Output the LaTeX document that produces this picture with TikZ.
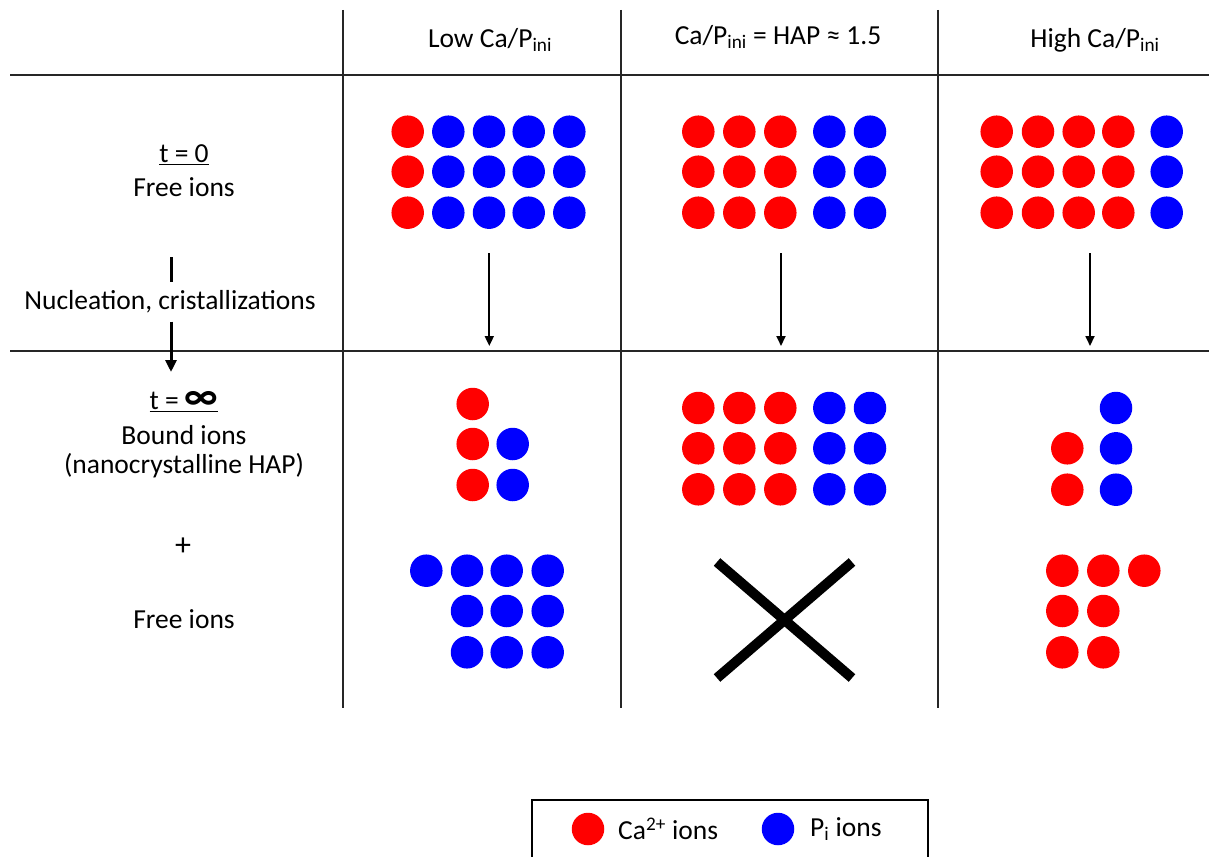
\documentclass[tikz,border=0pt]{standalone}
\usepackage{fontspec}
\setmainfont{Carlito}
\usepackage{tikz}
\usetikzlibrary{arrows.meta, positioning, calc}
\tikzstyle{txt} = [font=\fontsize{27.5}{33}\selectfont, align=center, inner sep=2pt]
\tikzstyle{caion} = [circle, fill=red, minimum size=32.5pt, inner sep=0pt]
\tikzstyle{pion} = [circle, fill=blue, minimum size=32.5pt, inner sep=0pt]
\tikzstyle{gridline} = [line width=1.2pt, black!85]
\tikzstyle{arrow} = [-{Stealth[length=10pt, width=9pt, inset=0pt]}, line width=1.8pt]
\tikzstyle{bigarrow} = [-{Stealth[length=12pt, width=11pt, inset=0pt]}, line width=3pt]
\tikzstyle{legendbox} = [rectangle, draw, line width=1.2pt, minimum width=396pt, minimum height=64pt]

\begin{document}
\begin{tikzpicture}[x=1pt, y=-1pt]

  \useasboundingbox (0,0) rectangle (1209,856);

  % table
  \draw[gridline, line width=2pt] (10,75) -- (1209,75);
  \draw[gridline, line width=1.6pt] (10,351) -- (1209,351);
  \draw[gridline] (343,10) -- (343,708);
  \draw[gridline] (621,10) -- (621,708);
  \draw[gridline] (938,10) -- (938,708);

  % headers
  \node[txt] (hlow) at (490,40) {Low Ca/P\textsubscript{ini}};
  \node[txt] (hhap) at (778,37) {Ca/P\textsubscript{ini} = HAP ≈ 1.5};
  \node[txt] (hhigh) at (1095,40) {High Ca/P\textsubscript{ini}};

  % left column
  \node[txt] (tzero) at (184,155) {\underline{t = 0}};
  \node[txt] (freezero) at (184,187) {Free ions};
  \node[txt, inner sep=8pt] (nucl) at (170,302) {Nucleation, cristallizations};
  \node[txt] (tinf) at (184,402) {\underline{t = {\fontsize{40}{40}\selectfont\bfseries ∞}}};
  \node[txt] (bound) at (184,435) {Bound ions};
  \node[txt] (nanohap) at (184,466) {(nanocrystalline HAP)};
  \node[txt, font=\fontsize{32}{36}\selectfont] (plus) at (183,547) {+};
  \node[txt] (freeinf) at (184,619) {Free ions};

  \coordinate (nuclin) at (171,257);
  \draw[line width=3pt] (nuclin) -- (nuclin |- nucl.north);
  \draw[bigarrow] (nuclin |- nucl.south) -- (171,372);

  % t = 0, low
  \foreach \y [count=\r] in {131.7,171.7,212.7} {
    \node[caion] (lozero-\r-1) at (407.7,\y) {};
    \foreach \x [count=\c from 2] in {448.3,489.0,528.7,569.3}
      \node[pion] (lozero-\r-\c) at (\x,\y) {};
  }
  % t = 0, HAP
  \foreach \y [count=\r] in {131.7,171.7,212.7} {
    \foreach \x [count=\c] in {698.3,739.3,780.3}
      \node[caion] (hapzero-\r-\c) at (\x,\y) {};
    \foreach \x [count=\c from 4] in {829.3,870.0}
      \node[pion] (hapzero-\r-\c) at (\x,\y) {};
  }
  % t = 0, high
  \foreach \y [count=\r] in {131.7,171.7,212.7} {
    \foreach \x [count=\c] in {996.7,1038.0,1078.7,1118.3}
      \node[caion] (hizero-\r-\c) at (\x,\y) {};
    \node[pion] (hizero-\r-5) at (1166.7,\y) {};
  }

  % column arrows
  \foreach \x/\n in {489.3/lo, 781/hap, 1090/hi} {
    \coordinate (\n-from) at (\x,253);
    \coordinate (\n-to) at (\x,346);
    \draw[arrow] (\n-from) -- (\n-to);
  }

  % t = inf, low
  \node[caion] (loinf-1) at (472.7,404) {};
  \node[caion] (loinf-2) at (472.7,444) {};
  \node[caion] (loinf-3) at (472.7,485) {};
  \node[pion] (loinf-4) at (512.7,444) {};
  \node[pion] (loinf-5) at (512.7,485) {};
  \node[pion] (lofree-0) at (426.3,570.7) {};
  \foreach \y [count=\r] in {570.7,611,652.3}
    \foreach \x [count=\c] in {467.0,506.7,547.7}
      \node[pion] (lofree-\r-\c) at (\x,\y) {};

  % t = inf, HAP
  \foreach \y [count=\r] in {408,448.3,489.3} {
    \foreach \x [count=\c] in {698.3,739.3,780.3}
      \node[caion] (hapinf-\r-\c) at (\x,\y) {};
    \foreach \x [count=\c from 4] in {829.3,870.0}
      \node[pion] (hapinf-\r-\c) at (\x,\y) {};
  }
  \draw[line width=10pt] (717,562) -- (852,678);
  \draw[line width=10pt] (717,678) -- (852,562);

  % t = inf, high
  \node[pion] (hiinf-1) at (1116,408) {};
  \node[pion] (hiinf-2) at (1116,448.3) {};
  \node[pion] (hiinf-3) at (1116,489.7) {};
  \node[caion] (hiinf-4) at (1067.3,448.3) {};
  \node[caion] (hiinf-5) at (1067.3,489.7) {};
  \node[caion] (hifree-0) at (1144.3,570.7) {};
  \foreach \y [count=\r] in {570.7,611,652.3}
    \foreach \x [count=\c] in {1062.3,1103.3}
      \node[caion] (hifree-\r-\c) at (\x,\y) {};

  % legend
  \node[legendbox] (legend) at (730,832) {};
  \node[caion] (legca) at (588,829) {};
  \node[txt, anchor=west] (legcatxt) at (616,829) {Ca\textsuperscript{2+} ions};
  \node[pion] (legp) at (778,829) {};
  \node[txt, anchor=west] (legptxt) at (808,829) {P\textsubscript{i} ions};

\end{tikzpicture}
\end{document}
